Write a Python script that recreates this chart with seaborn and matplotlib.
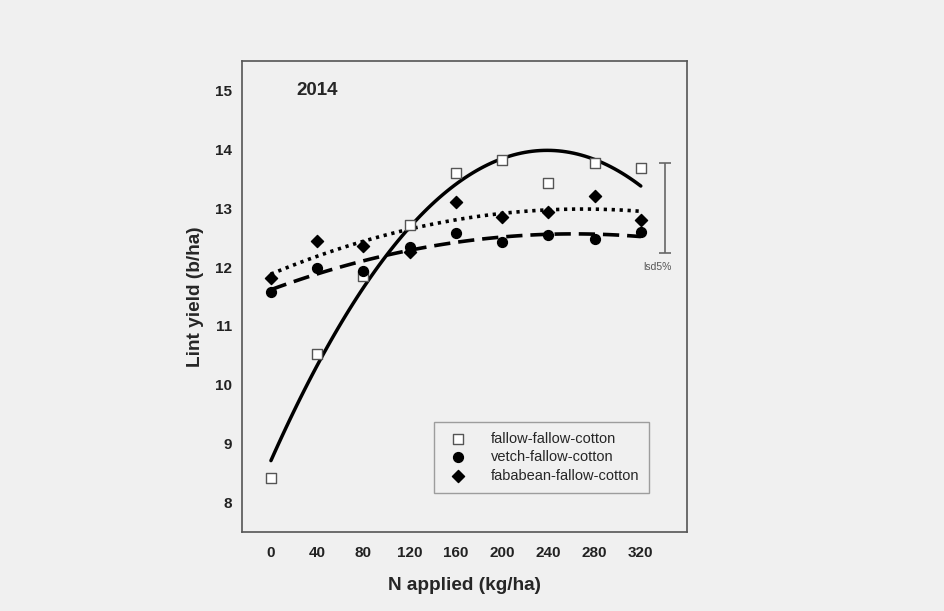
import numpy as np
import pandas as pd
import matplotlib
matplotlib.use("Agg")
import matplotlib.pyplot as plt
import seaborn as sns

# N rates (kg/ha) and lint yield (b/ha)
n_rates = [0, 40, 80, 120, 160, 200, 240, 280, 320]
fallow = [8.42, 10.53, 11.85, 12.72, 13.60, 13.81, 13.43, 13.76, 13.68]
vetch = [11.58, 11.99, 11.94, 12.34, 12.58, 12.42, 12.54, 12.47, 12.59]
fababean = [11.81, 12.45, 12.35, 12.25, 13.11, 12.85, 12.93, 13.21, 12.80]
labels = ['fallow-fallow-cotton', 'vetch-fallow-cotton', 'fababean-fallow-cotton']
lsd_low, lsd_high = 12.24, 13.76

sns.set_style("white")
plt.rcParams['font.family'] = ['Liberation Sans', 'DejaVu Sans']
bg = '#f0f0f0'

fig = plt.figure(figsize=(9.44, 6.11), dpi=100, facecolor=bg)
ax = fig.add_axes([0.2564, 0.1293, 0.4714, 0.7709])
ax.set_facecolor(bg)

df = pd.DataFrame({'N': n_rates, 'fallow': fallow, 'vetch': vetch, 'fababean': fababean})

# quadratic response curves
sns.regplot(data=df, x='N', y='fallow', order=2, ci=None, scatter=False, ax=ax,
            line_kws=dict(color='black', lw=2.5, ls='-'))
sns.regplot(data=df, x='N', y='vetch', order=2, ci=None, scatter=False, ax=ax,
            line_kws=dict(color='black', lw=2.6, ls=(0, (4.5, 2.2))))
sns.regplot(data=df, x='N', y='fababean', order=2, ci=None, scatter=False, ax=ax,
            line_kws=dict(color='black', lw=2.6, ls=(0, (0.9, 1.3))))

# points
h1 = ax.scatter(n_rates, fallow, marker='s', s=42, facecolor='white',
                edgecolor='#555555', linewidth=1.0, zorder=3, label=labels[0])
h2 = ax.scatter(n_rates, vetch, marker='o', s=50, color='black', zorder=3, label=labels[1])
h3 = ax.scatter(n_rates, fababean, marker='D', s=38, color='black', zorder=3, label=labels[2])

# lsd bar
ax.errorbar([341], [(lsd_low + lsd_high) / 2], yerr=[(lsd_high - lsd_low) / 2],
            fmt='none', ecolor='#666666', elinewidth=1.2, capsize=4, capthick=1.2)
ax.text(334, 12.0, 'lsd5%', fontsize=7.5, color='#555555', ha='center', va='center')

ax.text(22, 15.0, '2014', fontsize=13.5, fontweight='bold', ha='left', va='center')

ax.set_xlim(-25, 360)
ax.set_ylim(7.5, 15.5)
ax.set_xticks(n_rates)
ax.set_yticks(range(8, 16))
ax.tick_params(axis='x', direction='in', length=4, width=1, color='#555555',
               labelsize=11, pad=10)
ax.tick_params(axis='y', direction='in', length=3, width=1, color='#555555',
               labelsize=11, pad=7)
for lab in ax.get_xticklabels() + ax.get_yticklabels():
    lab.set_fontweight('bold')
    lab.set_color('#222222')

for sp in ax.spines.values():
    sp.set_color('#555555')
    sp.set_linewidth(1.2)

ax.set_xlabel('N applied (kg/ha)', fontsize=13.7, fontweight='bold', labelpad=12)
ax.set_ylabel('Lint yield (b/ha)', fontsize=13.7, fontweight='bold', labelpad=8)

leg = ax.legend(handles=[h1, h2, h3], loc='lower right', bbox_to_anchor=(0.915, 0.083),
                fontsize=10.5, frameon=True, fancybox=False, handletextpad=1.2,
                borderpad=0.7, labelspacing=0.3, borderaxespad=0)
leg.get_frame().set_edgecolor('#888888')
leg.get_frame().set_facecolor(bg)
leg.get_frame().set_linewidth(1.0)

fig.savefig('out.png', dpi=100, facecolor=bg)
